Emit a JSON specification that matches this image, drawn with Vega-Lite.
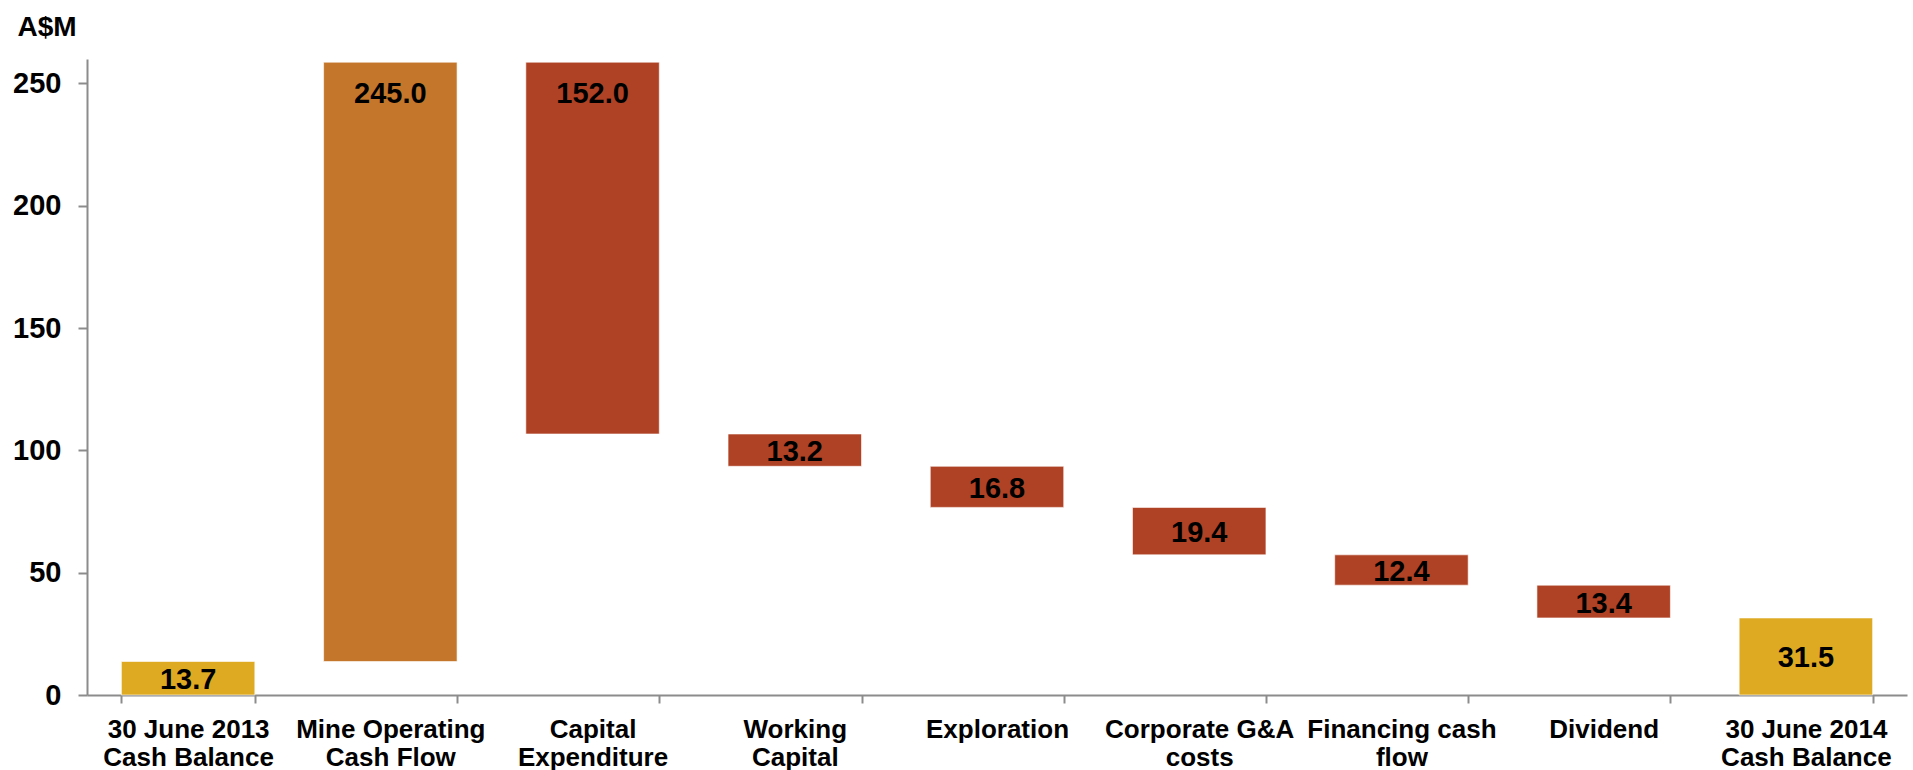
{
  "$schema": "https://vega.github.io/schema/vega-lite/v6.json",
  "width": 1820,
  "height": 636,
  "autosize": {"type": "none"},
  "padding": {"left": 87, "top": 59, "right": 6, "bottom": 75},
  "background": "white",
  "config": {
    "view": {"stroke": null},
    "font": "Liberation Sans",
    "axisX": {
      "labelAngle": 0,
      "labelFontSize": 26,
      "labelFontWeight": "bold",
      "labelColor": "black",
      "labelBaseline": "top",
      "labelLineHeight": 28,
      "labelPadding": 13,
      "labelLimit": 0,
      "labelOverlap": false,
      "labelBound": false,
      "tickBand": "extent",
      "tickSize": 8,
      "tickWidth": 2,
      "tickColor": "#8c8c8c",
      "domainColor": "#8c8c8c",
      "domainWidth": 2
    }
  },
  "data": {"values": [
    {"category": "30 June 2013|Cash Balance", "start": 0, "end": 13.7, "amount": 13.7, "kind": "balance"},
    {"category": "Mine Operating|Cash Flow", "start": 13.7, "end": 258.7, "amount": 245.0, "kind": "inflow"},
    {"category": "Capital|Expenditure", "start": 258.7, "end": 106.7, "amount": 152.0, "kind": "outflow"},
    {"category": "Working|Capital", "start": 106.7, "end": 93.5, "amount": 13.2, "kind": "outflow"},
    {"category": "Exploration", "start": 93.5, "end": 76.7, "amount": 16.8, "kind": "outflow"},
    {"category": "Corporate G&A|costs", "start": 76.7, "end": 57.3, "amount": 19.4, "kind": "outflow"},
    {"category": "Financing cash|flow", "start": 57.3, "end": 44.9, "amount": 12.4, "kind": "outflow"},
    {"category": "Dividend", "start": 44.9, "end": 31.5, "amount": 13.4, "kind": "outflow"},
    {"category": "30 June 2014|Cash Balance", "start": 0, "end": 31.5, "amount": 31.5, "kind": "balance"}
  ]},
  "encoding": {
    "x": {
      "field": "category", "type": "nominal", "sort": null,
      "scale": {"paddingInner": 0.34},
      "axis": {"title": null, "labelExpr": "split(datum.label, '|')"}
    }
  },
  "layer": [
    {
      "mark": {"type": "bar", "stroke": "white", "strokeOpacity": 0.6, "strokeWidth": 1},
      "encoding": {
        "y": {
          "field": "start", "type": "quantitative",
          "scale": {"domain": [0, 260], "nice": false},
          "axis": {
            "title": "A$M",
            "values": [0, 50, 100, 150, 200, 250],
            "grid": false,
            "labelFontSize": 29,
            "labelFontWeight": "bold",
            "labelColor": "black",
            "labelPadding": 17,
            "tickSize": 9,
            "tickWidth": 2,
            "tickColor": "#8c8c8c",
            "domainColor": "#8c8c8c",
            "domainWidth": 2,
            "titleAngle": 0,
            "titleX": -70,
            "titleY": -24,
            "titleAlign": "left",
            "titleBaseline": "alphabetic",
            "titleFontSize": 28,
            "titleFontWeight": "bold",
            "titleColor": "black"
          }
        },
        "y2": {"field": "end"},
        "color": {
          "field": "kind", "type": "nominal", "legend": null,
          "scale": {"domain": ["balance", "inflow", "outflow"], "range": ["#DEAA22", "#C4762A", "#AF4224"]}
        }
      }
    },
    {
      "transform": [{"filter": "datum.amount > 100"}, {"calculate": "max(datum.start, datum.end)", "as": "top"}],
      "mark": {"type": "text", "baseline": "alphabetic", "dy": 41, "fontSize": 29, "fontWeight": "bold", "color": "black"},
      "encoding": {
        "y": {"field": "top", "type": "quantitative"},
        "text": {"field": "amount", "type": "quantitative", "format": ".1f"}
      }
    },
    {
      "transform": [{"filter": "datum.amount <= 100"}, {"calculate": "(datum.start + datum.end) / 2", "as": "mid"}],
      "mark": {"type": "text", "baseline": "middle", "dy": 2, "fontSize": 29, "fontWeight": "bold", "color": "black"},
      "encoding": {
        "y": {"field": "mid", "type": "quantitative"},
        "text": {"field": "amount", "type": "quantitative", "format": ".1f"}
      }
    }
  ]
}
